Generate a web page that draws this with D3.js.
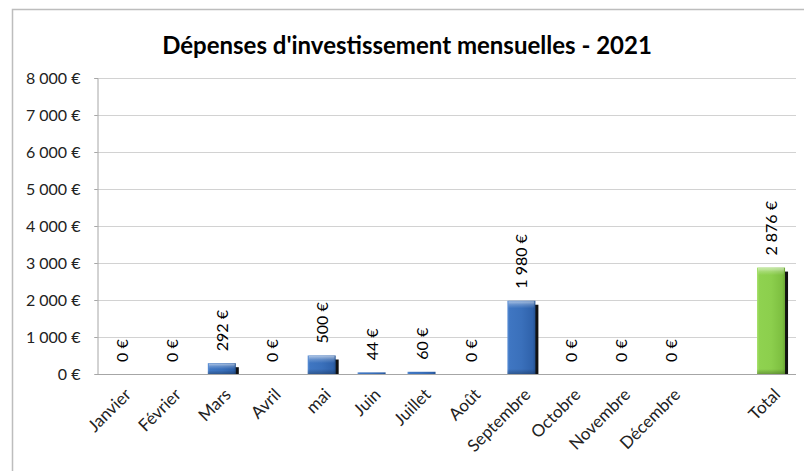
<!DOCTYPE html>
<html><head><meta charset="utf-8">
<script src="https://cdn.jsdelivr.net/npm/d3@7"></script>
<style>
html,body{margin:0;padding:0;background:#fff;}
text{font-family:Lato,"Open Sans",sans-serif;}
</style></head>
<body>
<svg id="chart" width="804" height="471"></svg>
<script>
const title = "Dépenses d'investissement mensuelles - 2021";
const months = ["Janvier","Février","Mars","Avril","mai","Juin","Juillet","Août","Septembre","Octobre","Novembre","Décembre"];
const monthValues = [0,0,292,0,500,44,60,0,1980,0,0,0];
const totalLabel = "Total";
const totalValue = 2876;
const yTicks = [0,1000,2000,3000,4000,5000,6000,7000,8000];

const categories = [...months, "", totalLabel];
const data = months.map((m,i)=>({cat:m, value:monthValues[i], total:false}));
data.push({cat:totalLabel, value:totalValue, total:true});

const svg = d3.select("#chart");
const x = d3.scaleBand().domain(categories).range([97, 796]).paddingInner(0).paddingOuter(0);
const y = d3.scaleLinear().domain([0,8000]).range([374, 78]);

const fmt = v => d3.format(",")(v).replace(/,/g, " ") + " €";

// defs
const defs = svg.append("defs");
function hgrad(id, stops){
  const g = defs.append("linearGradient").attr("id", id).attr("x1","0").attr("x2","1").attr("y1","0").attr("y2","0");
  stops.forEach(s=>g.append("stop").attr("offset",s[0]).attr("stop-color",s[1]));
}
function vgrad(id, stops){
  const g = defs.append("linearGradient").attr("id", id).attr("x1","0").attr("x2","0").attr("y1","0").attr("y2","1");
  stops.forEach(s=>g.append("stop").attr("offset",s[0]).attr("stop-color",s[1]).attr("stop-opacity", s[2]===undefined?1:s[2]));
}
hgrad("blueH", [[0,"#5b8fd6"],[0.08,"#3f76c2"],[0.5,"#3a70bb"],[0.9,"#2f62ab"],[1,"#24518f"]]);
hgrad("greenH", [[0,"#a6e06a"],[0.08,"#8fd250"],[0.5,"#8ccf4d"],[0.9,"#7dbf40"],[1,"#6aa534"]]);
vgrad("topHi", [[0,"#ffffff",0.55],[0.5,"#ffffff",0.2],[1,"#ffffff",0]]);
vgrad("botSh", [[0,"#000000",0],[1,"#000000",0.25]]);

// frame
svg.append("rect").attr("x",12.5).attr("y",9.5).attr("width",800).attr("height",470)
  .attr("fill","#fff").attr("stroke","#bdbdbd").attr("stroke-width",1.5);

// title
svg.append("text").attr("x",407).attr("y",54).attr("text-anchor","middle")
  .attr("font-size",24).attr("font-weight","bold").attr("fill","#000").text(title);

// gridlines
svg.append("g").selectAll("line").data(yTicks.filter(d=>d>0)).join("line")
  .attr("x1",94).attr("x2",796)
  .attr("y1",d=>Math.round(y(d))+0.5).attr("y2",d=>Math.round(y(d))+0.5)
  .attr("stroke","#d2d2d2").attr("stroke-width",1);

// y axis
const yAxis = d3.axisLeft(y).tickValues(yTicks).tickFormat(fmt).tickSize(3).tickPadding(14);
const gy = svg.append("g").attr("transform","translate(97.5,0)").call(yAxis);
gy.select(".domain").attr("stroke","#a6a6a6");
gy.selectAll(".tick line").attr("stroke","#a6a6a6");
gy.selectAll(".tick text").attr("font-size",16).attr("fill","#222").attr("font-family","Lato, sans-serif");

// x axis
const xAxis = d3.axisBottom(x).tickSize(0).tickFormat(d=>d);
const gx = svg.append("g").attr("transform","translate(0,374.5)").call(xAxis);
gx.select(".domain").attr("stroke","#a6a6a6").attr("d","M97,0H796");
gx.selectAll(".tick text")
  .attr("font-size",17).attr("fill","#222").attr("font-family","Lato, sans-serif")
  .attr("text-anchor","end")
  .attr("transform","translate(6,17) rotate(-45)")
  .attr("dy","0.35em").attr("y",0).attr("x",0);

// bars
const bw = 28;
const bars = svg.append("g");
const bg = bars.selectAll("g").data(data).join("g");
bg.filter(d=>d.value>100).append("rect")
  .attr("x",d=>x(d.cat)+x.bandwidth()/2 - bw/2 + 3)
  .attr("y",d=>y(d.value)+4)
  .attr("width",bw).attr("height",d=>y(0)-y(d.value)-4)
  .attr("fill","#111");
bg.append("rect")
  .attr("x",d=>x(d.cat)+x.bandwidth()/2 - bw/2)
  .attr("y",d=>y(d.value))
  .attr("width",bw).attr("height",d=>y(0)-y(d.value))
  .attr("fill",d=>d.total?"url(#greenH)":"url(#blueH)");
bg.filter(d=>d.value>100).append("rect")
  .attr("x",d=>x(d.cat)+x.bandwidth()/2 - bw/2 + 1)
  .attr("y",d=>y(d.value)+0.5)
  .attr("width",bw-2).attr("height",d=>Math.min(7,(y(0)-y(d.value))/2))
  .attr("fill","url(#topHi)");
bg.filter(d=>d.value>100).append("rect")
  .attr("x",d=>x(d.cat)+x.bandwidth()/2 - bw/2)
  .attr("y",d=>y(0)-Math.min(5,(y(0)-y(d.value))/3))
  .attr("width",bw).attr("height",d=>Math.min(5,(y(0)-y(d.value))/3))
  .attr("fill","url(#botSh)");

// value labels
bg.append("text")
  .attr("transform",d=>`translate(${x(d.cat)+x.bandwidth()/2+6},${y(d.value)-12}) rotate(-90)`)
  .attr("text-anchor","start")
  .attr("font-size",16).attr("fill","#000")
  .text(d=>fmt(d.value));
</script>
</body></html>
